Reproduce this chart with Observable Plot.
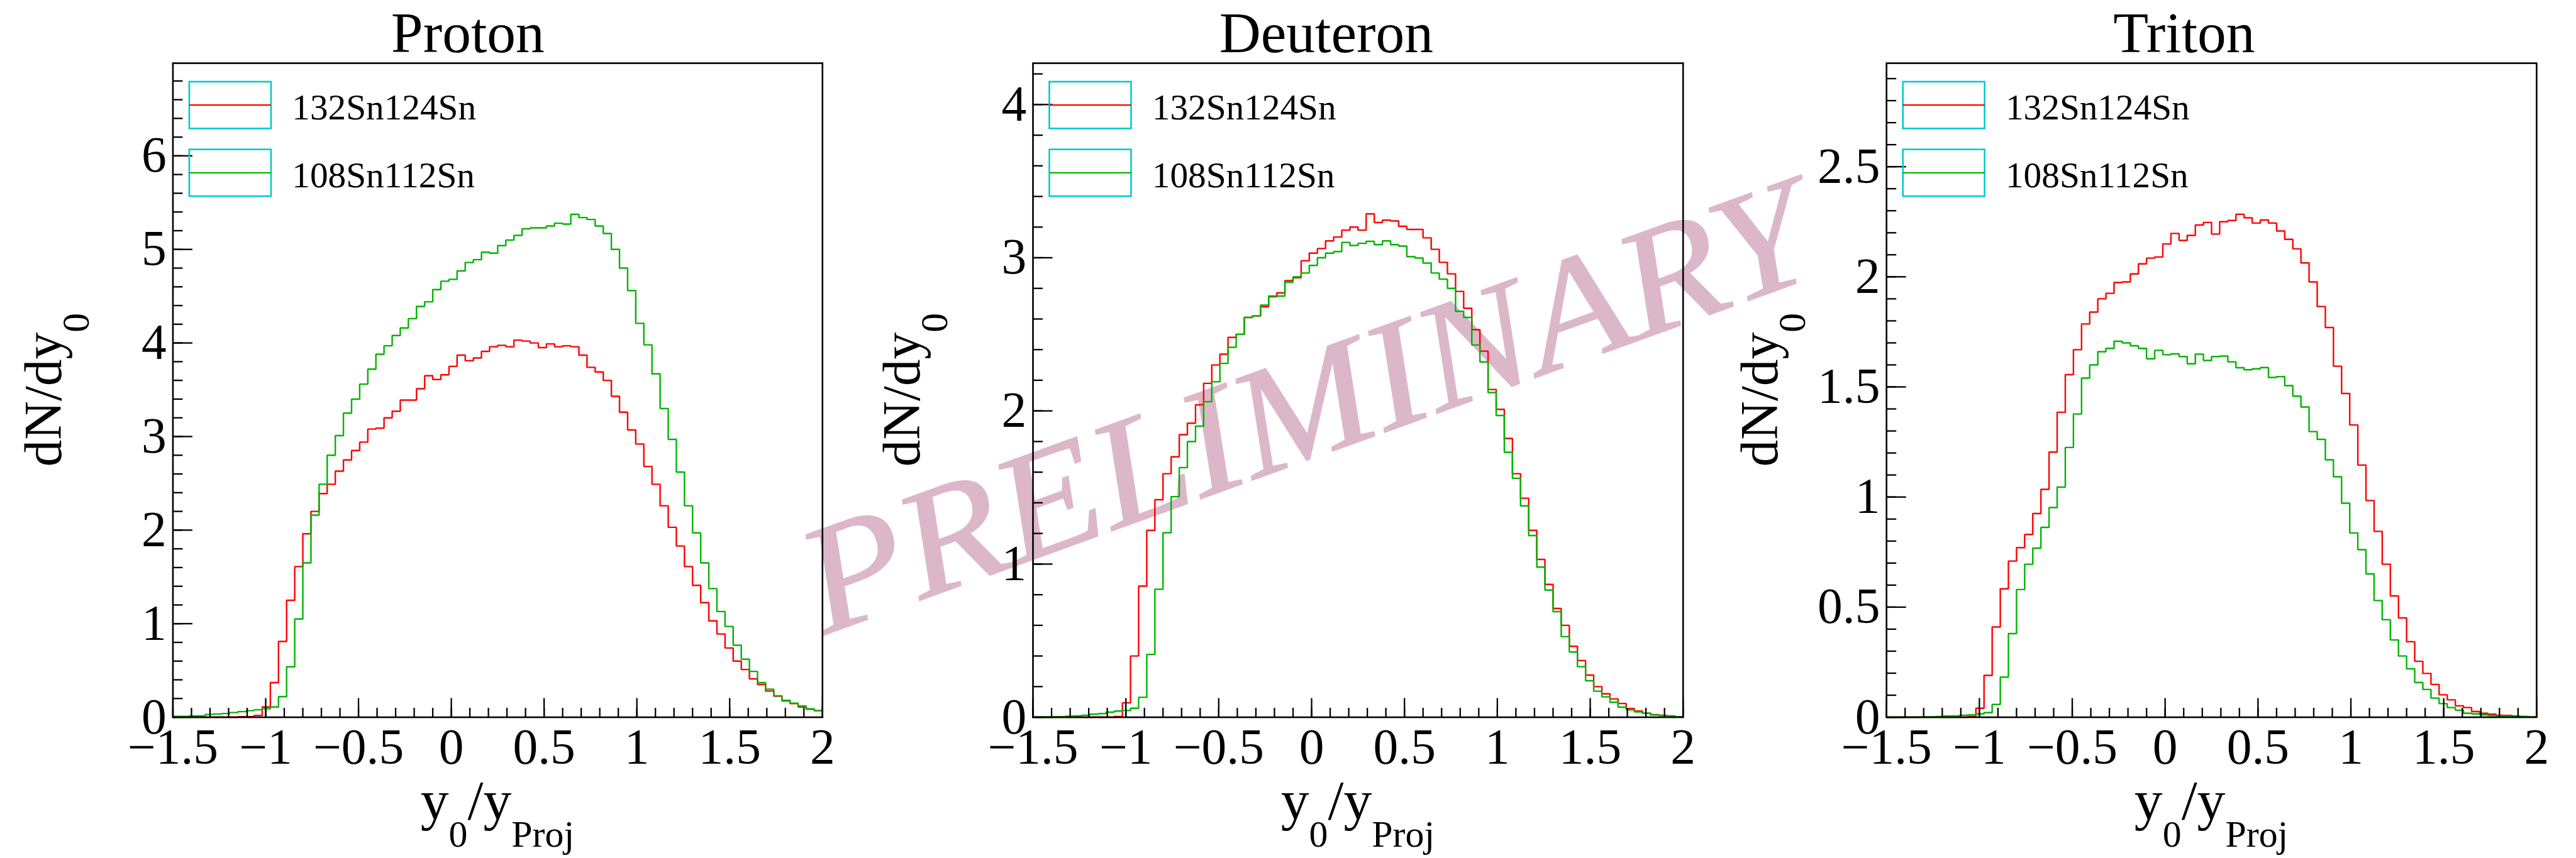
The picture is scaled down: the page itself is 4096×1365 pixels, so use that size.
<!DOCTYPE html>
<html>
<head>
<meta charset="utf-8">
<script src="https://cdn.jsdelivr.net/npm/d3@7"></script>
<script src="https://cdn.jsdelivr.net/npm/@observablehq/plot@0.6"></script>
<style>
  html, body { margin: 0; padding: 0; background: #ffffff; }
  #root { position: relative; width: 4096px; height: 1365px; overflow: hidden; background: #ffffff; }
  #root > svg { position: absolute; top: 0; }
</style>
</head>
<body>
<div id="root"></div>
<script>
// ---------------- data ----------------
const binMin = -1.5, binMax = 2.0, binCount = 80;
const seriesNames = ["132Sn124Sn", "108Sn112Sn"];
const panelTitles = ["Proton", "Deuteron", "Triton"];
const xTickValues = [-1.5, -1, -0.5, 0, 0.5, 1, 1.5, 2];
const xTickLabels = ["\u22121.5", "\u22121", "\u22120.5", "0", "0.5", "1", "1.5", "2"];
const protonYTicks = [0, 1, 2, 3, 4, 5, 6];
const protonYLabels = ["0", "1", "2", "3", "4", "5", "6"];
const deuteronYTicks = [0, 1, 2, 3, 4];
const deuteronYLabels = ["0", "1", "2", "3", "4"];
const tritonYTicks = [0, 0.5, 1, 1.5, 2, 2.5];
const tritonYLabels = ["0", "0.5", "1", "1.5", "2", "2.5"];
const yMaxes = [6.99, 4.27, 2.97];

const proton132 = [0,0,0,0,0,0,0,0,0.005,0.005,0.02,0.11,0.37,0.81,1.25,1.61,1.96,2.20,2.39,2.49,
  2.63,2.75,2.85,2.94,3.08,3.09,3.20,3.27,3.39,3.39,3.51,3.65,3.61,3.66,3.75,3.87,3.81,3.84,3.91,3.96,
  3.975,3.96,4.03,4.02,4.00,3.95,3.99,3.96,3.97,3.96,3.87,3.74,3.69,3.60,3.43,3.26,3.07,2.92,2.68,2.49,
  2.26,2.03,1.83,1.61,1.41,1.225,1.03,0.89,0.74,0.60,0.51,0.41,0.35,0.28,0.225,0.175,0.146,0.11,0.086,0.07];
const proton108 = [0.01,0.01,0.015,0.015,0.03,0.035,0.04,0.05,0.06,0.07,0.08,0.09,0.11,0.22,0.54,1.05,1.65,2.16,2.49,2.80,
  3.01,3.25,3.40,3.56,3.72,3.88,3.97,4.08,4.16,4.26,4.39,4.44,4.57,4.66,4.68,4.77,4.86,4.89,4.97,4.96,
  5.04,5.10,5.15,5.22,5.23,5.23,5.25,5.28,5.27,5.375,5.34,5.32,5.25,5.17,5.00,4.80,4.56,4.21,3.98,3.67,
  3.30,2.97,2.62,2.26,1.97,1.65,1.375,1.13,0.97,0.77,0.62,0.49,0.37,0.30,0.23,0.18,0.15,0.12,0.09,0.07];
const deuteron132 = [0,0,0,0,0,0,0,0,0,0,0.005,0.094,0.40,0.856,1.22,1.42,1.59,1.70,1.845,1.92,
  2.04,2.18,2.30,2.37,2.48,2.50,2.61,2.62,2.68,2.745,2.77,2.85,2.87,2.98,3.03,3.06,3.11,3.135,3.18,3.20,
  3.18,3.286,3.23,3.245,3.24,3.205,3.185,3.185,3.13,3.055,2.97,2.895,2.78,2.67,2.53,2.39,2.14,2.01,1.82,1.59,
  1.43,1.22,1.03,0.867,0.71,0.60,0.463,0.37,0.275,0.20,0.153,0.12,0.09,0.057,0.041,0.026,0.017,0.013,0.009,0.004];
const deuteron108 = [0.003,0.003,0.003,0.004,0.007,0.009,0.013,0.02,0.024,0.033,0.04,0.044,0.059,0.13,0.41,0.836,1.205,1.44,1.63,1.80,
  1.90,2.06,2.19,2.31,2.415,2.50,2.61,2.62,2.69,2.75,2.75,2.84,2.875,2.90,2.95,3.00,3.03,3.04,3.10,3.08,
  3.094,3.107,3.085,3.11,3.085,3.076,3.007,2.998,2.965,2.90,2.86,2.80,2.65,2.61,2.43,2.32,2.12,1.97,1.73,1.56,
  1.38,1.186,0.98,0.83,0.69,0.526,0.426,0.33,0.238,0.17,0.133,0.098,0.066,0.048,0.035,0.026,0.015,0.011,0.007,0.004];
const triton132 = [0,0,0,0,0,0,0,0,0,0,0.003,0.041,0.19,0.41,0.583,0.709,0.77,0.83,0.925,1.035,
  1.204,1.385,1.556,1.669,1.786,1.84,1.90,1.925,1.974,1.977,2.013,2.059,2.085,2.09,2.149,2.197,2.165,2.188,2.235,2.247,
  2.194,2.25,2.256,2.284,2.268,2.244,2.258,2.244,2.208,2.17,2.127,2.063,1.977,1.865,1.77,1.594,1.47,1.327,1.145,0.984,
  0.844,0.695,0.551,0.451,0.343,0.254,0.199,0.149,0.102,0.079,0.052,0.044,0.026,0.018,0.014,0.009,0.008,0.005,0.003,0.002];
const triton108 = [0,0,0,0,0.001,0.002,0.003,0.005,0.006,0.009,0.011,0.015,0.021,0.058,0.182,0.38,0.58,0.695,0.768,0.862,
  0.952,1.045,1.225,1.377,1.54,1.60,1.66,1.675,1.707,1.70,1.687,1.675,1.628,1.666,1.646,1.65,1.638,1.605,1.649,1.62,
  1.638,1.64,1.614,1.587,1.578,1.582,1.588,1.543,1.547,1.506,1.458,1.409,1.297,1.262,1.169,1.092,0.972,0.837,0.761,0.651,
  0.53,0.443,0.351,0.278,0.22,0.158,0.126,0.087,0.062,0.044,0.032,0.018,0.015,0.011,0.008,0.006,0.005,0.003,0.003,0.002];

// ---------------- layout (reference pixels, scaled by S) ----------------
const S = 0.855;
const PAD = 1596;
const FONT = "'Liberation Serif', 'Times New Roman', Times, serif";
const RED = "#ff0000", GREEN = "#00b400", CYAN = "#00cccc";

const panels = [
  {title: panelTitles[0], a: proton132, b: proton108, yMax: yMaxes[0], yt: protonYTicks, yl: protonYLabels, minorY: 0.2, fl: 321, fr: 1529},
  {title: panelTitles[1], a: deuteron132, b: deuteron108, yMax: yMaxes[1], yt: deuteronYTicks, yl: deuteronYLabels, minorY: 0.2, fl: 324, fr: 1533},
  {title: panelTitles[2], a: triton132, b: triton108, yMax: yMaxes[2], yt: tritonYTicks, yl: tritonYLabels, minorY: 0.1, fl: 316, fr: 1525}
];
const FT = 117, FB = 1334;

function stepPoints(vals) {
  const w = (binMax - binMin) / binCount;
  const pts = vals.map((v, k) => ({x: binMin + k * w, y: v}));
  pts.push({x: binMax, y: vals[vals.length - 1]});
  return pts;
}

const root = d3.select("#root");

// watermark (under the plots)
const wm = root.append("svg")
  .attr("width", 4096).attr("height", 1365)
  .style("left", "0px");
wm.append("g")
  .attr("transform", `translate(${2428 * S},${758 * S}) rotate(-19.9)`)
  .append("text")
  .attr("x", 0).attr("y", 80)
  .attr("text-anchor", "middle")
  .attr("font-family", FONT)
  .attr("font-style", "italic")
  .attr("font-size", 285 * S)
  .attr("textLength", 1973 * S)
  .attr("lengthAdjust", "spacingAndGlyphs")
  .attr("fill", "#dcb7ca")
  .attr("stroke", "#dcb7ca")
  .attr("stroke-width", 2)
  .text("PRELIMINARY");

panels.forEach((p, i) => {
  const W = PAD * S, H = PAD * S;
  const mL = p.fl * S, mR = (PAD - p.fr) * S, mT = FT * S, mB = (PAD - FB) * S;
  const fw = W - mL - mR, fh = H - mT - mB;
  const dxPerPx = (binMax - binMin) / fw, dyPerPx = p.yMax / fh;

  const xMinor = d3.range(-15, 21).map(d => d / 10);
  const yMinor = d3.range(0, Math.floor(p.yMax / p.minorY + 1e-9) + 1).map(d => +(d * p.minorY).toFixed(3));
  const xLab = new Map(xTickValues.map((v, k) => [v, xTickLabels[k]]));
  const yLab = new Map(p.yt.map((v, k) => [v, p.yl[k]]));

  const plot = Plot.plot({
    width: W, height: H,
    marginLeft: mL, marginRight: mR, marginTop: mT, marginBottom: mB,
    x: {domain: [binMin, binMax]},
    y: {domain: [0, p.yMax]},
    style: {background: "transparent", fontFamily: FONT, overflow: "visible", color: "black"},
    marks: [
      Plot.line(stepPoints(p.a), {x: "x", y: "y", stroke: RED, strokeWidth: 2.4, curve: "step-after", strokeLinejoin: "miter"}),
      Plot.line(stepPoints(p.b), {x: "x", y: "y", stroke: GREEN, strokeWidth: 2.4, curve: "step-after", strokeLinejoin: "miter"}),
      Plot.ruleX(xMinor, {x: d => d, y1: 0, y2: 14.5 * dyPerPx, stroke: "black", strokeWidth: 2.3}),
      Plot.ruleX(xTickValues, {x: d => d, y1: 0, y2: 30 * dyPerPx, stroke: "black", strokeWidth: 2.3}),
      Plot.ruleY(yMinor, {y: d => d, x1: binMin, x2: binMin + 16 * dxPerPx, stroke: "black", strokeWidth: 2.3}),
      Plot.ruleY(p.yt, {y: d => d, x1: binMin, x2: binMin + 31.5 * dxPerPx, stroke: "black", strokeWidth: 2.3}),
      Plot.frame({stroke: "black", strokeWidth: 2.6}),
      Plot.axisX(xTickValues, {anchor: "bottom", tickSize: 0, tickPadding: 17, fontSize: 79.5, tickFormat: d => xLab.get(d), label: null}),
      Plot.axisY(p.yt, {anchor: "left", tickSize: 0, tickPadding: 10.3, fontSize: 79.5, tickFormat: d => yLab.get(d), label: null})
    ]
  });

  const svg = d3.select(plot);
  svg.style("left", `${i * PAD * S}px`).style("position", "absolute").style("top", "0px");

  // title
  svg.append("text")
    .attr("x", 870 * S).attr("y", 97 * S)
    .attr("text-anchor", "middle")
    .attr("font-family", FONT).attr("font-size", 107 * S)
    .attr("fill", "black")
    .text(p.title);

  // y title dN/dy_0
  const yt = svg.append("text")
    .attr("transform", `translate(${114 * S},${(FT + FB) / 2 * S}) rotate(-90)`)
    .attr("text-anchor", "middle")
    .attr("font-family", FONT).attr("font-size", 100 * S)
    .attr("fill", "black");
  yt.append("tspan").text("dN/dy");
  yt.append("tspan").attr("dy", 44).attr("font-size", 72 * S).text("0");

  // x title y_0/y_Proj
  const xt = svg.append("text")
    .attr("x", (p.fl + p.fr) / 2 * S).attr("y", 1524 * S)
    .attr("text-anchor", "middle")
    .attr("font-family", FONT).attr("font-size", 105 * S)
    .attr("fill", "black");
  xt.append("tspan").text("y");
  xt.append("tspan").attr("dy", 44).attr("font-size", 70 * S).text("0");
  xt.append("tspan").attr("dy", -44).text("/y");
  xt.append("tspan").attr("dy", 44).attr("font-size", 70 * S).text("Proj");

  // legend
  const entries = [
    {name: seriesNames[0], color: RED, top: FT + 35, base: 222},
    {name: seriesNames[1], color: GREEN, top: FT + 161, base: 348}
  ];
  const lg = svg.append("g").attr("text-anchor", "start");
  entries.forEach(e => {
    const bx = (p.fl + 31) * S, by = e.top * S, bw = 152 * S, bh = 87 * S;
    lg.append("rect").attr("x", bx).attr("y", by).attr("width", bw).attr("height", bh)
      .attr("fill", "none").attr("stroke", CYAN).attr("stroke-width", 2.6);
    lg.append("line").attr("x1", bx).attr("x2", bx + bw).attr("y1", by + bh / 2).attr("y2", by + bh / 2)
      .attr("stroke", e.color).attr("stroke-width", 2.2);
    lg.append("text").attr("x", (p.fl + 222) * S).attr("y", e.base * S)
      .attr("text-anchor", "start")
      .attr("font-family", FONT).attr("font-size", 67 * S).attr("fill", "black")
      .text(e.name);
  });

  document.getElementById("root").appendChild(plot);
});
</script>
</body>
</html>
